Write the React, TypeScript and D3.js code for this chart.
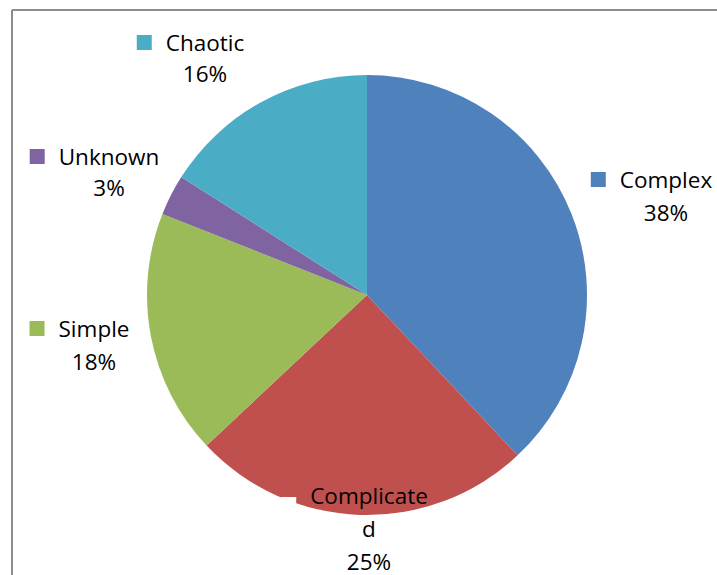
import React from "react";
import * as d3 from "d3";

const categories = ["Complex", "Complicated", "Simple", "Unknown", "Chaotic"];
const values = [38, 25, 18, 3, 16];
const colors = ["#4F81BD", "#C0504D", "#9BBB59", "#8064A2", "#4BACC6"];
const keyColors = ["#4F81BD", "#FFFFFF", "#9BBB59", "#8064A2", "#4BACC6"];
const labelLines = [
  ["Complex", "38%"],
  ["Complicate", "d", "25%"],
  ["Simple", "18%"],
  ["Unknown", "3%"],
  ["Chaotic", "16%"],
];

// layout of label blocks: text centre x, first baseline y, line step, key offset
const labelLayout = [
  { cx: 666, y: 188, step: 33, keyDy: -16 },
  { cx: 369, y: 504, step: 33, keyDy: -7 },
  { cx: 94, y: 337, step: 33, keyDy: -16 },
  { cx: 109, y: 165, step: 31, keyDy: -16 },
  { cx: 205, y: 51, step: 31, keyDy: -16 },
];

const W = 717;
const H = 575;
const cx = 367;
const cy = 295;
const R = 220;
const FONT = "'Open Sans', sans-serif";
const FS = 22.5;

export default function App() {
  const pie = d3.pie<number>().sort(null).value((d) => d);
  const arcs = pie(values);
  const arcGen = d3.arc<d3.PieArcDatum<number>>().innerRadius(0).outerRadius(R);

  const measure = (s: string) => {
    if (typeof document === "undefined") return s.length * FS * 0.55;
    const c = document.createElement("canvas").getContext("2d");
    if (!c) return s.length * FS * 0.55;
    c.font = `${FS}px 'Open Sans'`;
    return c.measureText(s).width;
  };

  return (
    <svg
      width={W}
      height={H}
      style={{ position: "absolute", left: 0, top: 0, background: "#fff" }}
    >
      <rect x={0} y={0} width={W} height={H} fill="#fff" />
      <line x1={12} y1={10} x2={W} y2={10} stroke="#8c8c8c" strokeWidth={2} />
      <line x1={12} y1={10} x2={12} y2={H} stroke="#8c8c8c" strokeWidth={2} />
      <g transform={`translate(${cx},${cy})`}>
        {arcs.map((a, i) => (
          <path key={categories[i]} d={arcGen(a) || ""} fill={colors[i]} />
        ))}
      </g>
      {labelLines.map((lines, i) => {
        const L = labelLayout[i];
        const w0 = measure(lines[0]);
        const left = L.cx - w0 / 2;
        return (
          <g key={categories[i]}>
            <rect x={left - 29} y={L.y + L.keyDy} width={15} height={15} fill={keyColors[i]} />
            {lines.map((t, j) => (
              <text
                key={j}
                x={L.cx}
                y={L.y + j * L.step}
                textAnchor="middle"
                fontFamily={FONT}
                fontSize={FS}
                fill="#000"
              >
                {t}
              </text>
            ))}
          </g>
        );
      })}
    </svg>
  );
}
